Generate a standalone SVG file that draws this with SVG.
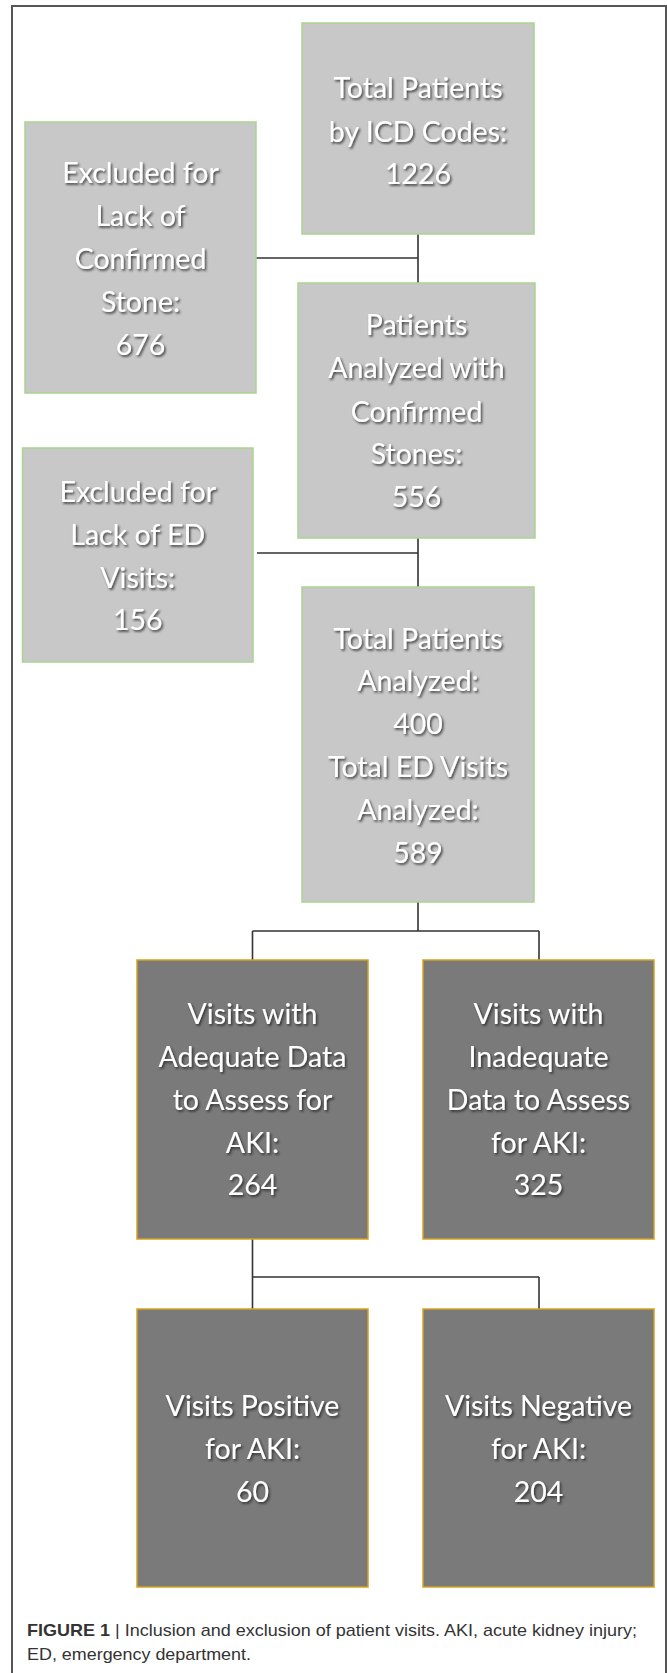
<svg xmlns="http://www.w3.org/2000/svg" width="667" height="1673" viewBox="0 0 667 1673">
<defs>
<filter id="sh" x="-10%" y="-20%" width="130%" height="150%">
<feDropShadow dx="1.5" dy="1.8" stdDeviation="0.9" flood-color="#222" flood-opacity="0.8"/>
</filter>
<style>
.light{fill:#c8c8c8;stroke:#a9d38f;stroke-width:1.5}
.dark{fill:#7a7a7a;stroke:#d3a21f;stroke-width:1.5}
.t{font-family:Lato,"Open Sans","Liberation Sans",sans-serif;font-size:28.5px;fill:#ffffff;text-anchor:middle;filter:url(#sh)}
.cn{fill:none;stroke:#333;stroke-width:1.6}
.cap{font-family:"Liberation Sans",Arial,sans-serif;font-size:17px;fill:#333}
</style>
</defs>
<rect x="12" y="6" width="654" height="1680" fill="#fff" stroke="#555" stroke-width="2"/>
<g id="connectors">
<path class="cn" d="M418 234 V283 M256 258 H418"/>
<path class="cn" d="M418 538 V587 M257 553 H418"/>
<path class="cn" d="M418 902 V931 M252.5 931 H539 M252.5 931 V960 M539 931 V960"/>
<path class="cn" d="M252.5 1239 V1277 M252.5 1277 H539 M252.5 1277 V1309 M539 1277 V1309"/>
</g>
<g id="n_total_icd">
<rect class="light" x="302" y="23" width="232" height="211"/>
<text class="t" x="418" y="98">Total Patients</text>
<text class="t" x="418" y="141.5">by ICD Codes:</text>
<text class="t" x="418" y="184">1226</text>
</g>
<g id="n_excl_stone">
<rect class="light" x="25" y="122" width="231" height="271"/>
<text class="t" x="140.5" y="182.5">Excluded for</text>
<text class="t" x="140.5" y="225.5">Lack of</text>
<text class="t" x="140.5" y="269">Confirmed</text>
<text class="t" x="140.5" y="312">Stone:</text>
<text class="t" x="140.5" y="354.5">676</text>
</g>
<g id="n_confirmed">
<rect class="light" x="298" y="283" width="237" height="255"/>
<text class="t" x="416.5" y="335">Patients</text>
<text class="t" x="416.5" y="378">Analyzed with</text>
<text class="t" x="416.5" y="421.5">Confirmed</text>
<text class="t" x="416.5" y="464">Stones:</text>
<text class="t" x="416.5" y="506.5">556</text>
</g>
<g id="n_excl_ed">
<rect class="light" x="22.5" y="448" width="230.5" height="214"/>
<text class="t" x="137.75" y="501.5">Excluded for</text>
<text class="t" x="137.75" y="545">Lack of ED</text>
<text class="t" x="137.75" y="588">Visits:</text>
<text class="t" x="137.75" y="630">156</text>
</g>
<g id="n_analyzed">
<rect class="light" x="302" y="587" width="232" height="315"/>
<text class="t" x="418" y="648.5">Total Patients</text>
<text class="t" x="418" y="691">Analyzed:</text>
<text class="t" x="418" y="733.5">400</text>
<text class="t" x="418" y="777">Total ED Visits</text>
<text class="t" x="418" y="820">Analyzed:</text>
<text class="t" x="418" y="862.5">589</text>
</g>
<g id="n_adequate">
<rect class="dark" x="137" y="960" width="231" height="279"/>
<text class="t" x="252.5" y="1024">Visits with</text>
<text class="t" x="252.5" y="1067">Adequate Data</text>
<text class="t" x="252.5" y="1110">to Assess for</text>
<text class="t" x="252.5" y="1152.5">AKI:</text>
<text class="t" x="252.5" y="1195">264</text>
</g>
<g id="n_inadequate">
<rect class="dark" x="423" y="960" width="231" height="279"/>
<text class="t" x="538.5" y="1024">Visits with</text>
<text class="t" x="538.5" y="1067">Inadequate</text>
<text class="t" x="538.5" y="1110">Data to Assess</text>
<text class="t" x="538.5" y="1152.5">for AKI:</text>
<text class="t" x="538.5" y="1195">325</text>
</g>
<g id="n_positive">
<rect class="dark" x="137" y="1309" width="231" height="278"/>
<text class="t" x="252.5" y="1416">Visits Positive</text>
<text class="t" x="252.5" y="1459">for AKI:</text>
<text class="t" x="252.5" y="1501.5">60</text>
</g>
<g id="n_negative">
<rect class="dark" x="423" y="1309" width="231" height="278"/>
<text class="t" x="538.5" y="1416">Visits Negative</text>
<text class="t" x="538.5" y="1459">for AKI:</text>
<text class="t" x="538.5" y="1501.5">204</text>
</g>
<g id="caption">
<text class="cap" x="27" y="1636" textLength="610" lengthAdjust="spacingAndGlyphs"><tspan font-weight="bold">FIGURE 1</tspan> | Inclusion and exclusion of patient visits. AKI, acute kidney injury;</text>
<text class="cap" x="27" y="1660" textLength="224" lengthAdjust="spacingAndGlyphs">ED, emergency department.</text>
</g>
</svg>
